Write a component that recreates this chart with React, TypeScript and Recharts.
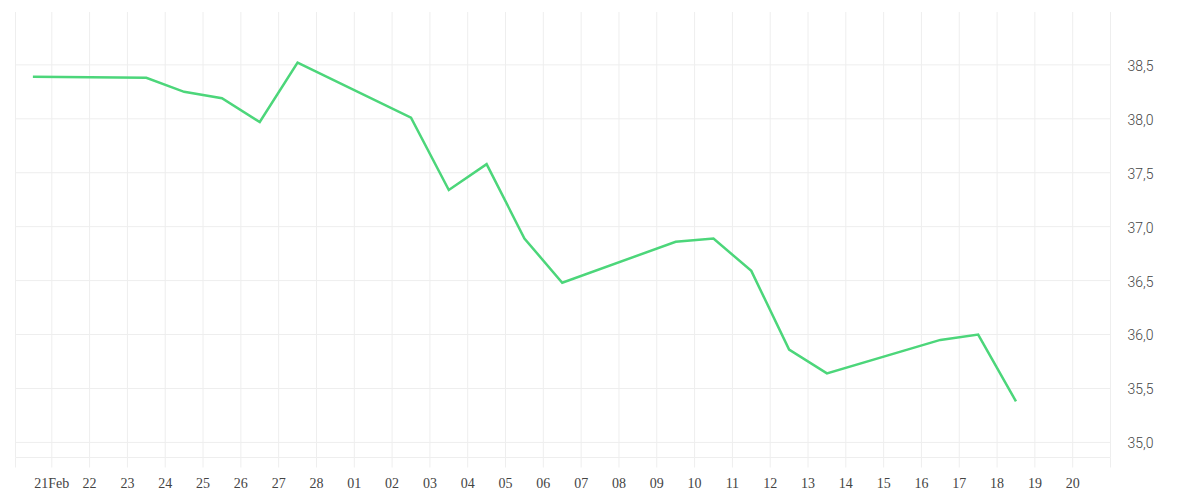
import { LineChart, Line, XAxis, YAxis, CartesianGrid } from "recharts";

// day offsets from 21 Feb (points sit mid-day)
const days = [
  -0.5, 2.5, 3.5, 4.5, 5.5, 6.5, 9.5, 10.5, 11.5, 12.5, 13.5, 16.5, 17.5,
  18.5, 19.5, 20.5, 23.5, 24.5, 25.5,
];
const prices = [
  38.39, 38.38, 38.25, 38.19, 37.97, 38.52, 38.01, 37.34, 37.58, 36.89,
  36.48, 36.86, 36.89, 36.59, 35.86, 35.64, 35.95, 36.0, 35.38,
];
const dayLabels = [
  "21Feb", "22", "23", "24", "25", "26", "27", "28", "01", "02", "03", "04",
  "05", "06", "07", "08", "09", "10", "11", "12", "13", "14", "15", "16",
  "17", "18", "19", "20",
];
const priceTicks = [35, 35.5, 36, 36.5, 37, 37.5, 38, 38.5];

const xMin = -0.96;
const xMax = 28;
const xTicks = [xMin, ...dayLabels.map((_, i) => i), xMax];

const data = days.map((d, i) => ({ day: d, price: prices[i] }));

const GRID = "#eeeeee";

export default function App() {
  return (
    <div style={{ position: "absolute", left: 0, top: 0 }}>
      <LineChart
        width={1200}
        height={500}
        data={data}
        margin={{ top: 12, right: 0, left: 15.5, bottom: 12.5 }}
      >
        <CartesianGrid stroke={GRID} syncWithTicks />
        <XAxis
          dataKey="day"
          type="number"
          domain={[xMin, xMax]}
          ticks={xTicks}
          interval={0}
          allowDataOverflow
          height={30}
          axisLine={{ stroke: GRID }}
          tickLine={{ stroke: GRID }}
          tickSize={10}
          tickMargin={11}
          tickFormatter={(v: number) =>
            Number.isInteger(v) && dayLabels[v] !== undefined ? dayLabels[v] : ""
          }
          tick={{
            fontFamily: "Liberation Serif",
            fontSize: 14,
            fill: "#444444",
          }}
        />
        <YAxis
          orientation="right"
          type="number"
          domain={[34.86, 38.99]}
          ticks={priceTicks}
          allowDataOverflow
          width={89.5}
          axisLine={false}
          tickLine={false}
          tickSize={0}
          tickMargin={17}
          tickFormatter={(v: number) => v.toFixed(1).replace(".", ",")}
          tick={{
            fontFamily: "Roboto",
            fontWeight: 300,
            fontSize: 14,
            fill: "#444444",
            textAnchor: "start",
            dy: 1,
          }}
        />
        <Line
          type="linear"
          dataKey="price"
          stroke="#4cd67a"
          strokeWidth={2.5}
          dot={false}
          isAnimationActive={false}
        />
      </LineChart>
    </div>
  );
}
